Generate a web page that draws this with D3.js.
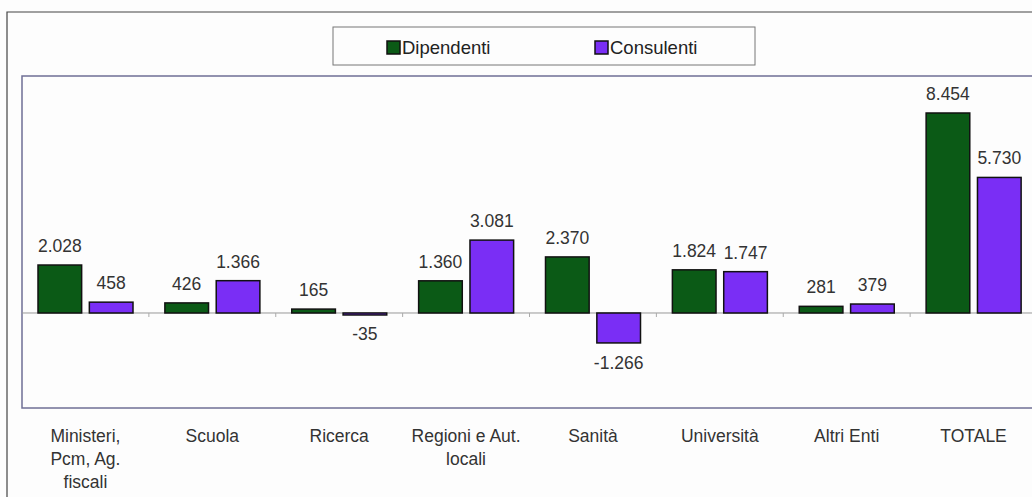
<!DOCTYPE html>
<html>
<head>
<meta charset="utf-8">
<script src="https://cdn.jsdelivr.net/npm/d3@7"></script>
<style>
  body { margin: 0; background: #fdfdfd; }
  svg { font-family: "Liberation Sans", Arial, sans-serif; }
</style>
</head>
<body>
<div id="chart"></div>
<script>
/**
 * Data
 */
const categories = [
    ["Ministeri,", "Pcm, Ag.", "fiscali"],
    ["Scuola"],
    ["Ricerca"],
    ["Regioni e Aut.", "locali"],
    ["Sanità"],
    ["Università"],
    ["Altri Enti"],
    ["TOTALE"]
];
const seriesNames = ["Dipendenti", "Consulenti"];
const dipendenti = [2028, 426, 165, 1360, 2370, 1824, 281, 8454];
const consulenti = [458, 1366, -35, 3081, -1266, 1747, 379, 5730];

const colors = { Dipendenti: "#0b5a16", Consulenti: "#7a2ef5" };

/**
 * Constants
 */
const width = 1032, height = 497,
    plot = { left: 22, top: 76, right: 1037, bottom: 408 },
    itLocale = d3.formatLocale({ decimal: ",", thousands: ".", grouping: [3], currency: ["", "€"], minus: "-" }),
    formatIt = itLocale.format(",");

const rows = categories.map((c, i) => ({
    idx: i, label: c,
    values: [
        { key: "Dipendenti", value: dipendenti[i] },
        { key: "Consulenti", value: consulenti[i] }
    ]
}));

const svg = d3.select("#chart")
    .append("svg")
    .attr("width", width)
    .attr("height", height);

// outer frame (scanned page)
svg.append("path")
    .attr("d", `M7,${height} L7,12 L${width},12`)
    .attr("fill", "none")
    .attr("stroke", "#444")
    .attr("stroke-width", 1.2);

// SCALES
const xScale = d3.scaleBand()
    .domain(rows.map(d => d.idx))
    .range([plot.left, plot.right]);

const xInner = d3.scaleBand()
    .domain(seriesNames)
    .range([16, 111])
    .paddingInner(0.15);

const yScale = d3.scaleLinear()
    .domain([-4016, 10018])
    .range([plot.bottom, plot.top]);

// plot area border
svg.append("rect")
    .attr("x", plot.left)
    .attr("y", plot.top)
    .attr("width", plot.right - plot.left)
    .attr("height", plot.bottom - plot.top)
    .attr("fill", "none")
    .attr("stroke", "#6f6f95")
    .attr("stroke-width", 1.5);

// zero axis with ticks at category boundaries
svg.append("line")
    .attr("x1", plot.left)
    .attr("x2", plot.right)
    .attr("y1", yScale(0))
    .attr("y2", yScale(0))
    .attr("stroke", "#999");

svg.append("g")
    .selectAll("line")
    .data(d3.range(1, categories.length))
    .join("line")
    .attr("x1", d => plot.left + d * xScale.step())
    .attr("x2", d => plot.left + d * xScale.step())
    .attr("y1", yScale(0))
    .attr("y2", yScale(0) + 4)
    .attr("stroke", "#aaa");

// BARS
const groups = svg.append("g")
    .selectAll("g")
    .data(rows)
    .join("g")
    .attr("transform", d => `translate(${xScale(d.idx)},0)`);

groups.selectAll("rect")
    .data(d => d.values)
    .join("rect")
    .attr("x", d => xInner(d.key))
    .attr("width", xInner.bandwidth())
    .attr("y", d => yScale(Math.max(0, d.value)))
    .attr("height", d => Math.max(2, Math.abs(yScale(d.value) - yScale(0))))
    .attr("fill", d => colors[d.key])
    .attr("stroke", "#111")
    .attr("stroke-width", 1.5);

groups.selectAll("text.val")
    .data(d => d.values)
    .join("text")
    .attr("class", "val")
    .attr("x", d => xInner(d.key) + xInner.bandwidth() / 2)
    .attr("y", d => d.value >= 0 ? yScale(d.value) - 13 : yScale(d.value) + 26)
    .attr("text-anchor", "middle")
    .attr("font-size", 17.5)
    .attr("fill", "#333")
    .text(d => formatIt(d.value));

// category labels
svg.append("g")
    .selectAll("text")
    .data(rows)
    .join("text")
    .attr("x", d => xScale(d.idx) + xScale.bandwidth() / 2)
    .attr("y", 442)
    .attr("text-anchor", "middle")
    .attr("font-size", 17.5)
    .attr("fill", "#333")
    .selectAll("tspan")
    .data(d => d.label)
    .join("tspan")
    .attr("x", function () { return this.parentNode.getAttribute("x"); })
    .attr("dy", (d, i) => i === 0 ? 0 : 23)
    .text(d => d);

// LEGEND
const legend = svg.append("g").attr("transform", "translate(333,27)");
legend.append("rect")
    .attr("width", 422)
    .attr("height", 38)
    .attr("fill", "#fdfdfd")
    .attr("stroke", "#777");
const legendItems = legend.selectAll("g")
    .data(seriesNames)
    .join("g")
    .attr("transform", (d, i) => `translate(${54 + i * 208},14)`);
legendItems.append("rect")
    .attr("width", 13)
    .attr("height", 13)
    .attr("fill", d => colors[d])
    .attr("stroke", "#111")
    .attr("stroke-width", 1.5);
legendItems.append("text")
    .attr("x", 15)
    .attr("y", 13)
    .attr("font-size", 18.5)
    .attr("fill", "#222")
    .text(d => d);
</script>
</body>
</html>
